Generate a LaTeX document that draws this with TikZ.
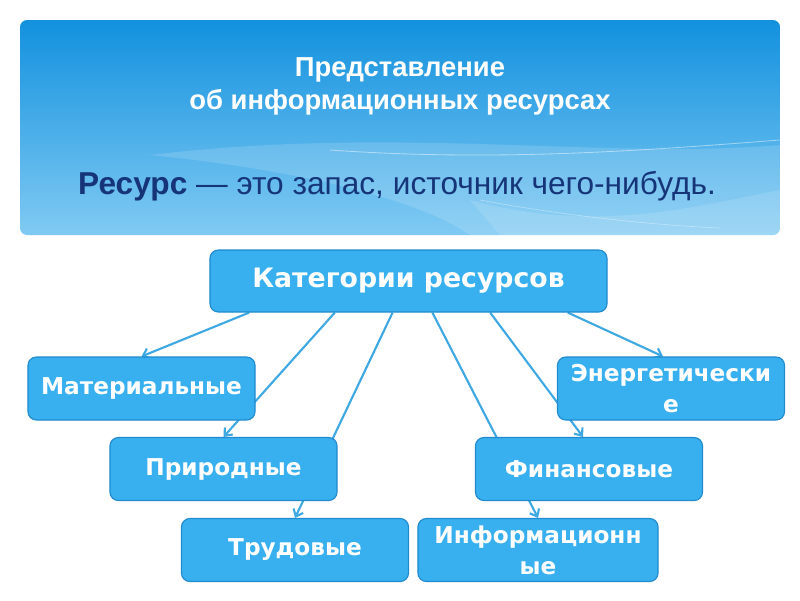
\documentclass[tikz,border=0pt]{standalone}
\usepackage{fontspec}
\setmainfont{Liberation Sans}
\newfontfamily\boxfont{DejaVu Sans}
\usetikzlibrary{calc,arrows.meta,backgrounds}

\definecolor{boxfill}{RGB}{56,176,240}
\definecolor{boxline}{RGB}{32,138,205}
\definecolor{linkcol}{RGB}{62,168,226}
\definecolor{bantop}{RGB}{18,145,222}
\definecolor{banbot}{RGB}{128,202,243}
\definecolor{navy}{RGB}{22,52,120}

\tikzset{
  catbox/.style={draw=boxline, fill=boxfill, line width=0.8pt, rounded corners=6pt,
    minimum width=5.675cm, minimum height=1.575cm, align=center, text=white,
    font=\boxfont\bfseries\fontsize{16.5}{22}\selectfont},
  link/.style={draw=linkcol, line width=1.5pt, -{Straight Barb[length=4.5pt,width=7.5pt]}}
}

\begin{document}
\begin{tikzpicture}[x=0.025cm, y=-0.025cm]
  \useasboundingbox (0,0) rectangle (800,600);

  % Banner / fondo
  \shade[top color=bantop, bottom color=banbot, rounded corners=5pt] (20,20) rectangle (780,235);
  \begin{scope}
    \clip[rounded corners=5pt] (20,20) rectangle (780,235);
    \fill[white, opacity=0.14] (150,155) .. controls (400,125) and (600,160) .. (780,145)
      -- (780,235) -- (470,235) .. controls (420,200) and (300,170) .. (150,155);
    \fill[white, opacity=0.12] (470,200) .. controls (600,235) and (700,205) .. (780,190)
      -- (780,235) -- (500,235) -- cycle;
    \draw[white, opacity=0.45, line width=0.6pt] (330,150) .. controls (500,162) and (650,150) .. (780,140);
    \draw[white, opacity=0.35, line width=0.5pt] (480,200) .. controls (560,215) and (650,225) .. (720,228);
  \end{scope}

  \node[text=white, font=\bfseries\fontsize{19.5}{23.4}\selectfont, align=center] (title) at (400,86)
    {Представление\\об информационных ресурсах};
  \node[text=navy, font=\fontsize{22.5}{26}\selectfont] (defn) at (397,186)
    {\textbf{Ресурс} — это запас, источник чего-нибудь.};

  % Categories
  \node[catbox, minimum width=9.925cm, minimum height=1.55cm,
    font=\boxfont\bfseries\fontsize{19}{23}\selectfont] (kat) at (408.5,281) {Категории ресурсов};
  \node[catbox] (mat) at (141.5,388.5) {Материальные};
  \node[catbox] (energ) at (671,388.5) {Энергетически\\е};
  \node[catbox] (prir) at (223.5,469) {Природные};
  \node[catbox] (fin) at (589,469) {Финансовые};
  \node[catbox] (trud) at (295,550) {Трудовые};
  \node[catbox, minimum width=6cm] (inform) at (538,550) {Информационн\\ые};

  % Links (behind the boxes)
  \begin{scope}[on background layer]
    \draw[link] ($(kat.south west)!0.10!(kat.south east)$) -- (mat.north);
    \draw[link] ($(kat.south west)!0.315!(kat.south east)$) -- (prir.north);
    \draw[link] ($(kat.south west)!0.46!(kat.south east)$) -- (trud.north);
    \draw[link] ($(kat.south west)!0.56!(kat.south east)$) -- (inform.north);
    \draw[link] ($(kat.south west)!0.705!(kat.south east)$) -- ([xshift=-0.15cm]fin.north);
    \draw[link] ($(kat.south west)!0.90!(kat.south east)$) -- ([xshift=-0.2cm]energ.north);
  \end{scope}
\end{tikzpicture}
\end{document}
